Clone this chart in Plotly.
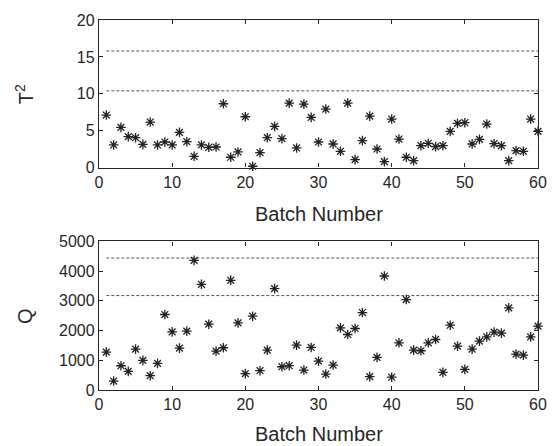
import plotly.graph_objects as go

batch = list(range(1, 61))
t2_values = [7.12, 3.07, 5.45, 4.19, 4.05, 3.15, 6.17, 3.07, 3.47, 3.07,
             4.77, 3.51, 1.53, 3.07, 2.75, 2.79, 8.65, 1.40, 2.12, 6.89,
             0.18, 2.03, 4.05, 5.59, 3.92, 8.74, 2.66, 8.60, 6.80, 3.47,
             7.93, 3.20, 2.21, 8.74, 1.08, 3.65, 6.98, 2.52, 0.81, 6.58,
             3.87, 1.40, 0.95, 2.97, 3.29, 2.84, 2.97, 4.91, 5.99, 6.08,
             3.20, 3.83, 5.90, 3.24, 2.97, 0.95, 2.30, 2.21, 6.58, 4.91]
q_values = [1275, 302, 816, 627, 1376, 996, 481, 896, 2540, 1957,
            1409, 1980, 4362, 3557, 2215, 1309, 1421, 3691, 2260, 550,
            2483, 649, 1342, 3412, 783, 817, 1510, 671, 1432, 973,
            537, 839, 2092, 1868, 2069, 2606, 450, 1097, 3836, 430,
            1588, 3043, 1342, 1320, 1588, 1700, 593, 2181, 1476, 694,
            1376, 1644, 1789, 1946, 1913, 2762, 1208, 1174, 1789, 2148]
t2_limits = [10.4, 15.8]
q_limits = [3178, 4440]
limit_x = [1, 60]
x_ticks = [0, 10, 20, 30, 40, 50, 60]
t2_ticks = [0, 5, 10, 15, 20]
q_ticks = [0, 1000, 2000, 3000, 4000, 5000]

FONT = "Liberation Sans, Arial, sans-serif"
TXT = "#262626"

fig = go.Figure()

for lim in t2_limits:
    fig.add_trace(go.Scatter(x=limit_x, y=[lim, lim], mode="lines",
                             line=dict(color="#555555", width=1, dash="3px,2px"),
                             xaxis="x", yaxis="y", showlegend=False, hoverinfo="skip"))
for lim in q_limits:
    fig.add_trace(go.Scatter(x=limit_x, y=[lim, lim], mode="lines",
                             line=dict(color="#555555", width=1, dash="3px,2px"),
                             xaxis="x2", yaxis="y2", showlegend=False, hoverinfo="skip"))

marker = dict(symbol="asterisk-open", size=8, color="#222222",
              line=dict(color="#222222", width=1.3))
fig.add_trace(go.Scatter(x=batch, y=t2_values, mode="markers", marker=marker,
                         xaxis="x", yaxis="y", showlegend=False, cliponaxis=False))
fig.add_trace(go.Scatter(x=batch, y=q_values, mode="markers", marker=marker,
                         xaxis="x2", yaxis="y2", showlegend=False, cliponaxis=False))

axis_common = dict(showline=True, linecolor="#262626", linewidth=1.3, mirror="ticks",
                   ticks="inside", ticklen=4, tickwidth=1, tickcolor="#262626",
                   showgrid=False, zeroline=False,
                   tickfont=dict(family=FONT, size=16, color=TXT))

top_dom = [0.6011, 1.0]
bot_dom = [0.0, 0.4016]

fig.update_layout(
    width=559, height=446,
    margin=dict(l=99, r=13, t=19, b=56),
    paper_bgcolor="white", plot_bgcolor="white",
    xaxis=dict(domain=[0, 1], range=[0, 60], tickvals=x_ticks, anchor="y", **axis_common),
    yaxis=dict(domain=top_dom, range=[0, 20], tickvals=t2_ticks, anchor="x", **axis_common),
    xaxis2=dict(domain=[0, 1], range=[0, 60], tickvals=x_ticks, anchor="y2", **axis_common),
    yaxis2=dict(domain=bot_dom, range=[0, 5000], tickvals=q_ticks, anchor="x2", **axis_common),
    annotations=[
        dict(text="Batch Number", xref="paper", yref="paper", x=0.5, y=(390 - 214) / 371,
             xanchor="center", yanchor="middle", showarrow=False,
             font=dict(family=FONT, size=20, color=TXT)),
        dict(text="Batch Number", xref="paper", yref="paper", x=0.5, y=(390 - 434) / 371,
             xanchor="center", yanchor="middle", showarrow=False,
             font=dict(family=FONT, size=20, color=TXT)),
        dict(text="T<sup>2</sup>", xref="paper", yref="paper", x=(23 - 99) / 447,
             y=(top_dom[0] + top_dom[1]) / 2, textangle=-90,
             xanchor="center", yanchor="middle", showarrow=False,
             font=dict(family=FONT, size=20, color=TXT)),
        dict(text="Q", xref="paper", yref="paper", x=(23 - 99) / 447,
             y=(bot_dom[0] + bot_dom[1]) / 2, textangle=-90,
             xanchor="center", yanchor="middle", showarrow=False,
             font=dict(family=FONT, size=20, color=TXT)),
    ],
)

fig.write_html("out.html")
